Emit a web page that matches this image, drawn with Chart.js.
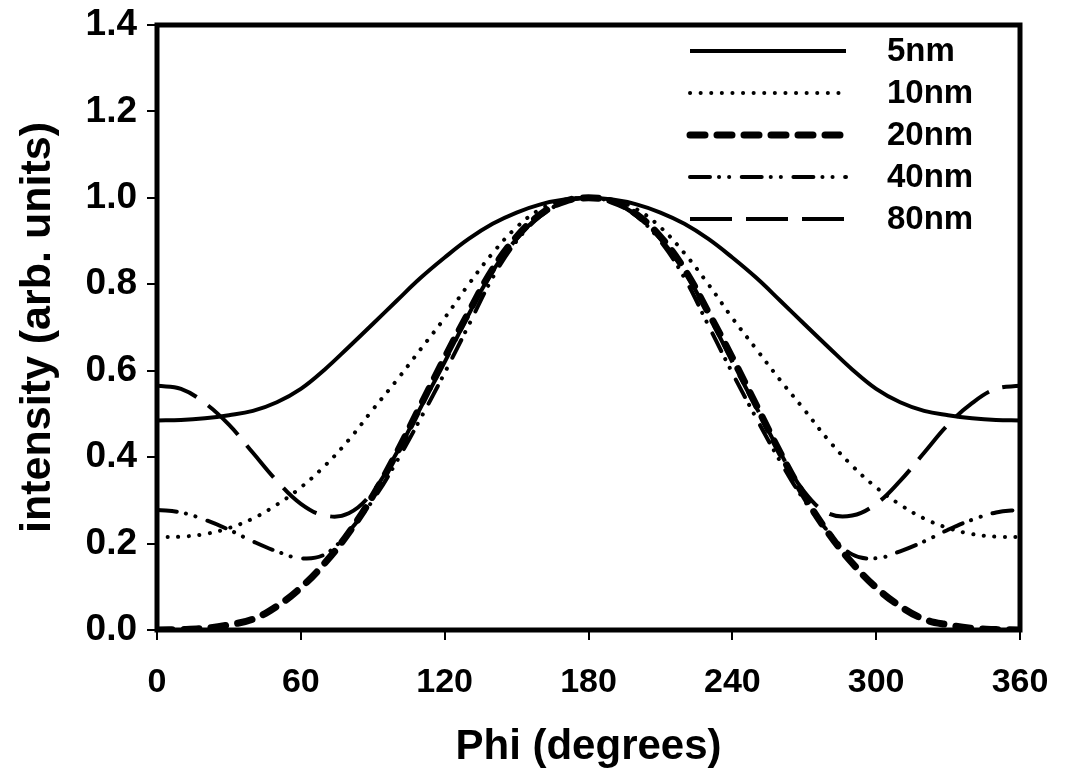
<!DOCTYPE html>
<html>
<head>
<meta charset="utf-8">
<script src="https://cdn.jsdelivr.net/npm/chart.js@4.4.1/dist/chart.umd.min.js"></script>
<style>
  html, body { margin: 0; padding: 0; background: #fff; }
  #wrap { width: 1065px; height: 776px; position: relative; }
</style>
</head>
<body>
<div id="wrap"><canvas id="c"></canvas></div>
<script>
// Phi (degrees), sampled every 10 deg
var PHI = [0, 10, 20, 30, 40, 50, 60, 70, 80, 90, 100, 110, 120, 130, 140, 150, 160, 170, 180,
           190, 200, 210, 220, 230, 240, 250, 260, 270, 280, 290, 300, 310, 320, 330, 340, 350, 360];

var SERIES_LABELS = ["5nm", "10nm", "20nm", "40nm", "80nm"];

var I_5NM  = [0.485, 0.486, 0.49, 0.497, 0.507, 0.527, 0.558, 0.603, 0.655, 0.708, 0.762, 0.815, 0.862, 0.905, 0.94, 0.966, 0.985, 0.996, 1.0,
              0.996, 0.985, 0.966, 0.94, 0.905, 0.862, 0.815, 0.762, 0.708, 0.655, 0.603, 0.558, 0.527, 0.507, 0.497, 0.49, 0.486, 0.485];
var I_10NM = [0.215, 0.216, 0.222, 0.236, 0.258, 0.29, 0.33, 0.38, 0.44, 0.51, 0.578, 0.65, 0.722, 0.8, 0.872, 0.932, 0.974, 0.995, 1.0,
              0.995, 0.974, 0.932, 0.872, 0.8, 0.722, 0.65, 0.578, 0.51, 0.44, 0.38, 0.33, 0.29, 0.258, 0.236, 0.222, 0.216, 0.215];
var I_20NM = [0.0, 0.001, 0.004, 0.012, 0.025, 0.055, 0.098, 0.155, 0.225, 0.31, 0.41, 0.52, 0.63, 0.735, 0.835, 0.91, 0.962, 0.992, 1.0,
              0.992, 0.962, 0.91, 0.835, 0.735, 0.63, 0.52, 0.41, 0.31, 0.225, 0.155, 0.098, 0.055, 0.025, 0.012, 0.004, 0.001, 0.0];
var I_40NM = [0.278, 0.272, 0.255, 0.232, 0.205, 0.182, 0.166, 0.175, 0.228, 0.30, 0.39, 0.49, 0.595, 0.705, 0.815, 0.9, 0.958, 0.99, 1.0,
              0.99, 0.958, 0.9, 0.815, 0.705, 0.595, 0.49, 0.39, 0.30, 0.228, 0.175, 0.166, 0.182, 0.205, 0.232, 0.255, 0.272, 0.278];
var I_80NM = [0.565, 0.558, 0.525, 0.475, 0.41, 0.345, 0.292, 0.265, 0.27, 0.32, 0.41, 0.515, 0.62, 0.73, 0.83, 0.905, 0.96, 0.99, 1.0,
              0.99, 0.96, 0.905, 0.83, 0.73, 0.62, 0.515, 0.41, 0.32, 0.27, 0.265, 0.292, 0.345, 0.41, 0.475, 0.525, 0.558, 0.565];

var X_TICKS = [0, 60, 120, 180, 240, 300, 360];
var Y_TICKS = [0, 0.2, 0.4, 0.6, 0.8, 1.0, 1.2, 1.4];

var FONT = "'Liberation Sans', Arial, Helvetica, sans-serif";

// line styles, one per series
var STYLES = [
  { width: 4, dash: [],                          cap: "butt" },
  { width: 4, dash: [0.1, 10.5],                 cap: "round" },
  { width: 7, dash: [15, 12],                    cap: "round" },
  { width: 4, dash: [20, 9, 0.1, 10, 0.1, 12.5], cap: "round" },
  { width: 4, dash: [42, 14],                    cap: "butt" }
];

function pts(ys) {
  return PHI.map(function(x, i) { return { x: x, y: ys[i] }; });
}

var SERIES = [I_5NM, I_10NM, I_20NM, I_40NM, I_80NM];

var datasets = SERIES.map(function(ys, i) {
  var s = STYLES[i];
  return {
    label: SERIES_LABELS[i],
    data: pts(ys),
    borderColor: "#000",
    backgroundColor: "#000",
    borderWidth: s.width,
    borderDash: s.dash,
    borderCapStyle: s.cap,
    borderJoinStyle: "round",
    pointRadius: 0,
    fill: false,
    tension: 0.4
  };
});

// legend in the upper right: long line sample + label
var lineLegend = {
  id: "lineLegend",
  afterDatasetsDraw: function(chart) {
    var ctx = chart.ctx, a = chart.chartArea;
    ctx.save();
    chart.data.datasets.forEach(function(ds, i) {
      var y = a.top + 26 + i * 42;
      ctx.beginPath();
      ctx.setLineDash(ds.borderDash || []);
      ctx.lineWidth = ds.borderWidth;
      ctx.lineCap = ds.borderCapStyle || "butt";
      ctx.strokeStyle = "#000";
      ctx.moveTo(a.right - 330, y);
      ctx.lineTo(a.right - 174, y);
      ctx.stroke();
      ctx.setLineDash([]);
      ctx.fillStyle = "#000";
      ctx.font = "bold 33px " + FONT;
      ctx.textBaseline = "middle";
      ctx.textAlign = "left";
      ctx.fillText(ds.label, a.right - 133, y + 1);
    });
    ctx.restore();
  }
};

// heavy box round the plot area
var frame = {
  id: "frame",
  afterDatasetsDraw: function(chart) {
    var ctx = chart.ctx, a = chart.chartArea;
    ctx.save();
    ctx.lineWidth = 5;
    ctx.strokeStyle = "#000";
    ctx.strokeRect(a.left, a.top, a.right - a.left, a.bottom - a.top);
    ctx.restore();
  }
};

new Chart(document.getElementById("c"), {
  type: "line",
  data: { datasets: datasets },
  plugins: [frame, lineLegend],
  options: {
    responsive: true,
    maintainAspectRatio: false,
    animation: false,
    layout: { padding: { top: 25, right: 45, left: 0, bottom: 0 } },
    plugins: { legend: { display: false }, tooltip: { enabled: false } },
    scales: {
      x: {
        type: "linear",
        min: 0, max: 360,
        afterBuildTicks: function(s) { s.ticks = X_TICKS.map(function(v) { return { value: v }; }); },
        afterFit: function(s) { s.height = 146; s.paddingLeft = 0; s.paddingRight = 0; },
        border: { display: false },
        grid: { drawOnChartArea: false, drawTicks: true, tickLength: 10, lineWidth: 2, color: "#000", tickColor: "#000" },
        ticks: {
          color: "#000", padding: 22, maxRotation: 0,
          font: { family: FONT, size: 34, weight: "bold" }
        },
        title: {
          display: true, text: "Phi (degrees)", color: "#000",
          font: { family: FONT, size: 42, weight: "bold" },
          padding: { top: 0, bottom: 3 }
        }
      },
      y: {
        type: "linear",
        min: 0, max: 1.4,
        afterBuildTicks: function(s) { s.ticks = Y_TICKS.map(function(v) { return { value: v }; }); },
        afterFit: function(s) { s.width = 157; s.paddingTop = 0; s.paddingBottom = 0; },
        border: { display: false },
        grid: { drawOnChartArea: false, drawTicks: true, tickLength: 10, lineWidth: 2, color: "#000", tickColor: "#000" },
        ticks: {
          color: "#000", padding: 10,
          font: { family: FONT, size: 37, weight: "bold" },
          callback: function(v) { return Number(v).toFixed(1); }
        },
        title: {
          display: true, text: "intensity (arb. units)", color: "#000",
          font: { family: FONT, size: 43, weight: "bold" },
          padding: { top: 12, bottom: 0 }
        }
      }
    }
  }
});
</script>
</body>
</html>
